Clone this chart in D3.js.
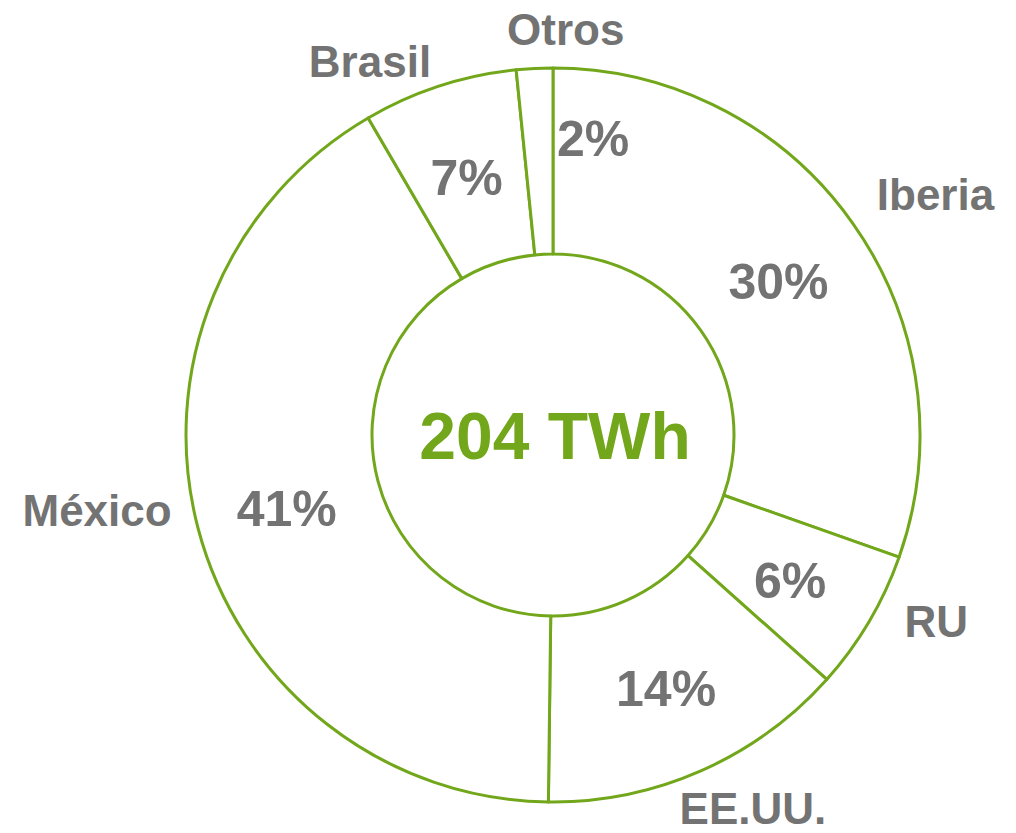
<!DOCTYPE html>
<html>
<head>
<meta charset="utf-8">
<script src="https://cdn.jsdelivr.net/npm/d3@7"></script>
<style>
 body { margin: 0; background: #fff; }
 text { font-family: "Liberation Sans", Arial, sans-serif; font-weight: bold; }
</style>
</head>
<body>
<svg></svg>
<script>
// данные
const regions = ["Iberia", "RU", "EE.UU.", "México", "Brasil", "Otros"];
const shares = [30.4, 6.2, 13.6, 41.4, 6.8, 1.6];
const shareLabels = ["30%", "6%", "14%", "41%", "7%", "2%"];
const totalLabel = "204 TWh";

const width = 1016;
const height = 833;
const green = "#72a71b";
const grey = "#737373";

let svg = d3.select("svg")
 .attr("width", width)
 .attr("height", height);

const cx = 553, cy = 435;
const outerR = 367, innerR = 181;

let g = svg.append("g")
 .attr("transform", `translate(${cx}, ${cy})`);

const pie = d3.pie().sort(null).value(d => d);
const arcs = pie(shares);
const arc = d3.arc().innerRadius(innerR).outerRadius(outerR);

// сектора
g.selectAll("path")
 .data(arcs)
 .join("path")
 .attr("d", arc)
 .style("fill", "#fff")
 .style("stroke", green)
 .style("stroke-width", 3)
 .style("stroke-linejoin", "round");

// положение подписей (угол в градусах от верха, радиус)
const pctPos = [[55.7, 273], [121.5, 278], [155.9, 277], [254.7, 276], [341.5, 272], [7.7, 300]];
const namePos = [[57.8, 452], [115.9, 426], [151.8, 423], [260.7, 462], [333.9, 416], [1.8, 406]];

const polar = (p) => {
 const a = p[0] * Math.PI / 180;
 return [p[1] * Math.sin(a), -p[1] * Math.cos(a)];
};

g.selectAll("text.pct")
 .data(arcs)
 .join("text")
 .attr("class", "pct")
 .attr("x", (d, i) => polar(pctPos[i])[0])
 .attr("y", (d, i) => polar(pctPos[i])[1])
 .attr("dy", "0.36em")
 .attr("text-anchor", "middle")
 .style("font-size", "50px")
 .style("fill", grey)
 .text((d, i) => shareLabels[i]);

g.selectAll("text.name")
 .data(arcs)
 .join("text")
 .attr("class", "name")
 .attr("x", (d, i) => polar(namePos[i])[0])
 .attr("y", (d, i) => polar(namePos[i])[1])
 .attr("dy", "0.36em")
 .attr("text-anchor", "middle")
 .style("font-size", "44px")
 .style("fill", grey)
 .text((d, i) => regions[i]);

// подпись в центре
g.append("text")
 .attr("x", 2)
 .attr("y", 0)
 .attr("dy", "0.36em")
 .attr("text-anchor", "middle")
 .style("font-size", "66px")
 .style("fill", green)
 .text(totalLabel);
</script>
</body>
</html>
